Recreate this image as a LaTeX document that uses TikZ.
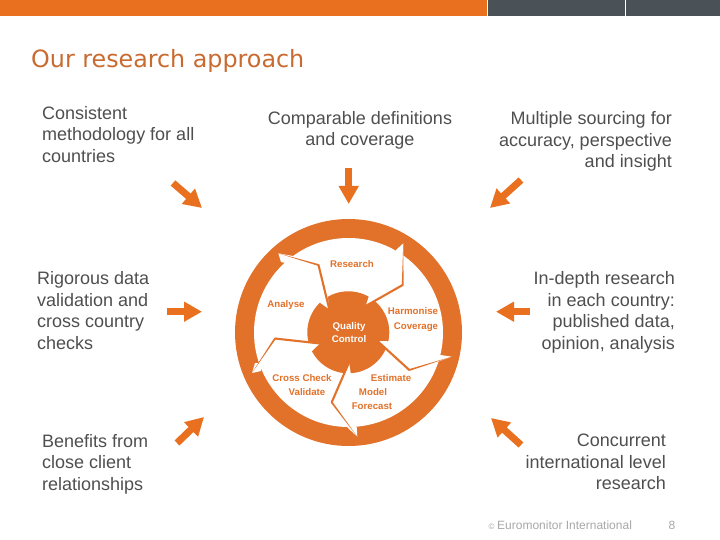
\documentclass[tikz,border=0pt]{standalone}
\usepackage{fontspec}
\setmainfont{Liberation Sans}
\newfontfamily\titlefont{DejaVu Sans}
\usetikzlibrary{arrows.meta,calc}
\definecolor{brandorange}{HTML}{E8701F}
\definecolor{wheelorange}{HTML}{E2712A}
\definecolor{titleorange}{HTML}{C96B30}
\definecolor{slate}{HTML}{4A5257}
\definecolor{bodygrey}{HTML}{4F4F4F}
\definecolor{footgrey}{HTML}{A8A8A8}
\tikzset{
  bodytext/.style={inner sep=0pt,text=bodygrey,font=\fontsize{18}{21.6}\selectfont},
  lefttext/.style={bodytext,align=left,anchor=north west},
  righttext/.style={bodytext,align=right,anchor=north east},
  midtext/.style={bodytext,align=center,anchor=north},
  fatarrow/.style={line width=7pt,brandorange,-{Triangle[width=19pt,length=18pt]}},
  wheeltext/.style={inner sep=0pt,text=wheelorange,font=\fontsize{9.7}{11}\selectfont\bfseries},
  hubtext/.style={inner sep=0pt,text=white,font=\fontsize{9.7}{11}\selectfont\bfseries},
  foot/.style={inner sep=0pt,text=footgrey,font=\fontsize{12}{14}\selectfont}
}
\newcommand\wheelspoke[3]{%
  \fill[wheelorange] (#1) -- ($(#2)!0.9pt!90:(#1)$) -- ($(#2)!0.9pt!-90:(#1)$) -- cycle;
  \draw[wheelorange,line width=2.1pt,line cap=round] (#2) -- (#3);
}
\begin{document}
\begin{tikzpicture}[x=1pt,y=-1pt]
\useasboundingbox (0,0) rectangle (720,540);
\fill[white] (0,0) rectangle (720,540);
% top bar
\fill[brandorange] (0,0) rectangle (487,16.5);
\fill[slate] (488,0) rectangle (625,16.5);
\fill[slate] (626,0) rectangle (720,16.5);
% title
\node[inner sep=0pt,anchor=base west,text=titleorange,font=\titlefont\fontsize{23.8}{26}\selectfont] (title) at (31,68) {Our research approach};
% texts
\node[lefttext] (t1) at (42,106) {Consistent\\methodology for all\\countries};
\node[midtext] (t2) at (360,111) {Comparable definitions\\and coverage};
\node[righttext] (t3) at (672,111.5) {Multiple sourcing for\\accuracy, perspective\\and insight};
\node[lefttext] (t4) at (37,271.5) {Rigorous data\\validation and\\cross country\\checks};
\node[righttext] (t5) at (675,271.5) {In-depth research\\in each country:\\published data,\\opinion, analysis};
\node[lefttext] (t6) at (42,434) {Benefits from\\close client\\relationships};
\node[righttext] (t7) at (666,434) {Concurrent\\international level\\research};
% fat arrows
\coordinate (a1s) at (173,183); \coordinate (a1e) at (202,208);
\coordinate (a2s) at (348.7,168); \coordinate (a2e) at (348.7,204);
\coordinate (a3s) at (521,180); \coordinate (a3e) at (490,208);
\coordinate (a4s) at (167,311.7); \coordinate (a4e) at (202,311.7);
\coordinate (a5s) at (530,311.7); \coordinate (a5e) at (496,311.7);
\coordinate (a6s) at (177,443); \coordinate (a6e) at (204,417);
\coordinate (a7s) at (521,445); \coordinate (a7e) at (491,418);
\foreach \n in {1,...,7} \draw[fatarrow] (a\n s) -- (a\n e);
% wheel ring
\coordinate (wc) at (348.5,332.5);
\fill[wheelorange] (wc) circle[radius=113.5];
\fill[white] (wc) circle[radius=94.5];
% white arrow tips cutting into the ring
\fill[white] (396,250) -- (403.3,243.3) -- (403.5,258) -- (396,258) -- cycle;
\fill[white] (440.7,355) -- (451.7,356.7) -- (437,362) -- (432,358) -- cycle;
\fill[white] (356.7,427) -- (357.3,436.7) -- (347,427) -- (350,420) -- cycle;
\fill[white] (255,363) -- (252,373) -- (261,371) -- (262,363) -- cycle;
\fill[white] (281,262) -- (278.3,253.3) -- (293,256) -- (290,264) -- cycle;
% hub
\fill[wheelorange] (348.3,332.3) circle[radius=41];
% notches in the hub
\begin{scope}[shift={(295,280)},x=0.33333pt,y=-0.33333pt]
  \fill[white] (103,88) -- (72,66) -- (85,40) -- (97,40) -- cycle;
  \fill[white] (212,78) -- (225,38) -- (248,58) -- cycle;
  \fill[white] (248,183) -- (286,184) -- (278,212) -- cycle;
  \fill[white] (162,247) -- (168,284) -- (145,284) -- cycle;
  \fill[white] (75,190) -- (32,184) -- (44,220) -- cycle;
\end{scope}
% spokes: tip on the ring, elbow, end in the hub
\coordinate (s1a) at (403.3,243.3); \coordinate (s1b) at (402.7,285); \coordinate (s1c) at (365.7,306);
\coordinate (s2a) at (451.7,356.7); \coordinate (s2b) at (409.3,370); \coordinate (s2c) at (378,341.5);
\coordinate (s3a) at (357.3,436.7); \coordinate (s3b) at (331.7,402.3); \coordinate (s3c) at (349,362.5);
\coordinate (s4a) at (251.7,373.3); \coordinate (s4b) at (275,338.5); \coordinate (s4c) at (320,343.5);
\coordinate (s5a) at (278.3,253.3); \coordinate (s5b) at (318.5,265); \coordinate (s5c) at (329.3,309.3);
\foreach \n in {1,...,5} {\wheelspoke{s\n a}{s\n b}{s\n c}}
% wheel labels
\node[wheeltext] (research) at (352,264) {Research};
\node[wheeltext] (analyse) at (286,304.5) {Analyse};
\node[wheeltext] (harmonise) at (413,311.5) {Harmonise};
\node[wheeltext] (coverage) at (416,327) {Coverage};
\node[hubtext] (quality) at (349,327) {Quality};
\node[hubtext] (control) at (349,339) {Control};
\node[wheeltext] (estimate) at (391,378.5) {Estimate};
\node[wheeltext] (model) at (373,392.5) {Model};
\node[wheeltext] (forecast) at (372,406.5) {Forecast};
\node[wheeltext] (cross) at (302,378.5) {Cross Check};
\node[wheeltext] (validate) at (307,392.5) {Validate};
% footer
\node[foot,anchor=base west,font=\fontsize{8}{10}\selectfont] (copy) at (488.5,529) {©};
\node[foot,anchor=base west] (euro) at (497,529) {Euromonitor International};
\node[foot,anchor=base] (page) at (672,529) {8};
\end{tikzpicture}
\end{document}
